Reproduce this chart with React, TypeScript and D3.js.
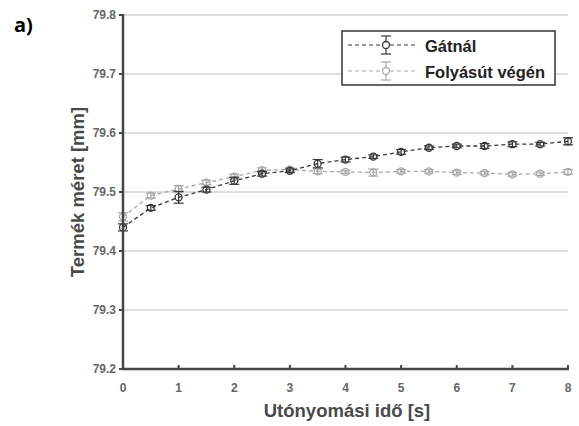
import React, { useEffect, useRef } from "react";
import * as d3 from "d3";

const times = [0, 0.5, 1, 1.5, 2, 2.5, 3, 3.5, 4, 4.5, 5, 5.5, 6, 6.5, 7, 7.5, 8];
const gatnal = [79.44, 79.473, 79.491, 79.504, 79.519, 79.531, 79.536, 79.548, 79.555, 79.56, 79.568, 79.575, 79.578, 79.578, 79.581, 79.581, 79.586];
const gatnalErr = [0.006, 0.004, 0.01, 0.004, 0.006, 0.004, 0.003, 0.007, 0.004, 0.003, 0.004, 0.003, 0.003, 0.004, 0.004, 0.003, 0.006];
const vegen = [79.458, 79.494, 79.505, 79.516, 79.526, 79.537, 79.538, 79.535, 79.534, 79.533, 79.535, 79.535, 79.533, 79.532, 79.53, 79.531, 79.534];
const vegenErr = [0.007, 0.004, 0.006, 0.004, 0.004, 0.004, 0.003, 0.004, 0.003, 0.006, 0.003, 0.003, 0.003, 0.003, 0.003, 0.003, 0.004];
const xTicks = [0, 1, 2, 3, 4, 5, 6, 7, 8];
const yTicks = [79.2, 79.3, 79.4, 79.5, 79.6, 79.7, 79.8];

export default function App() {
  const ref = useRef<SVGSVGElement>(null);

  useEffect(() => {
    const svg = d3.select(ref.current);
    svg.selectAll("*").remove();

    const x = d3.scaleLinear().domain([0, 8]).range([123, 568]);
    const y = d3.scaleLinear().domain([79.2, 79.8]).range([369, 15]);
    const font = "Liberation Sans, Arial, sans-serif";

    // grid
    svg.append("g")
      .selectAll("line")
      .data(yTicks.slice(1))
      .enter()
      .append("line")
      .attr("x1", x(0))
      .attr("x2", x(8))
      .attr("y1", d => y(d))
      .attr("y2", d => y(d))
      .attr("stroke", "#dedede")
      .attr("stroke-width", 2);

    const series = [
      { vals: vegen, err: vegenErr, color: "#a8a8a8" },
      { vals: gatnal, err: gatnalErr, color: "#383838" },
    ];

    series.forEach(s => {
      const line = d3.line<number>().x((d, i) => x(times[i])).y(d => y(d));
      svg.append("path")
        .attr("d", line(s.vals))
        .attr("fill", "none")
        .attr("stroke", s.color)
        .attr("stroke-width", 1.3)
        .attr("stroke-dasharray", "4,3");

      const g = svg.append("g")
        .selectAll("g")
        .data(s.vals)
        .enter()
        .append("g");
      g.append("line")
        .attr("x1", (d, i) => x(times[i]))
        .attr("x2", (d, i) => x(times[i]))
        .attr("y1", (d, i) => y(d - s.err[i]))
        .attr("y2", (d, i) => y(d + s.err[i]))
        .attr("stroke", s.color)
        .attr("stroke-width", 1.2);
      [-1, 1].forEach(sign => {
        g.append("line")
          .attr("x1", (d, i) => x(times[i]) - 5)
          .attr("x2", (d, i) => x(times[i]) + 5)
          .attr("y1", (d, i) => y(d + sign * s.err[i]))
          .attr("y2", (d, i) => y(d + sign * s.err[i]))
          .attr("stroke", s.color)
          .attr("stroke-width", 1.2);
      });
      g.append("circle")
        .attr("cx", (d, i) => x(times[i]))
        .attr("cy", d => y(d))
        .attr("r", 3.5)
        .attr("fill", "none")
        .attr("stroke", s.color)
        .attr("stroke-width", 1.3);
    });

    // axes
    const axisColor = "#454545";
    const labelColor = "#666";
    svg.append("line")
      .attr("x1", x(0)).attr("x2", x(0))
      .attr("y1", y(79.8) - 1).attr("y2", y(79.2) + 1)
      .attr("stroke", axisColor).attr("stroke-width", 2.5);
    svg.append("line")
      .attr("x1", x(0) - 1).attr("x2", x(8) + 1)
      .attr("y1", y(79.2)).attr("y2", y(79.2))
      .attr("stroke", axisColor).attr("stroke-width", 2.5);

    svg.append("g")
      .selectAll("line")
      .data(yTicks)
      .enter()
      .append("line")
      .attr("x1", x(0) - 4)
      .attr("x2", x(0))
      .attr("y1", d => y(d))
      .attr("y2", d => y(d))
      .attr("stroke", axisColor)
      .attr("stroke-width", 2);
    svg.append("g")
      .selectAll("text")
      .data(yTicks)
      .enter()
      .append("text")
      .attr("x", x(0) - 7)
      .attr("y", d => y(d) + 4)
      .attr("text-anchor", "end")
      .attr("font-family", font)
      .attr("font-size", 12)
      .attr("font-weight", "bold")
      .attr("fill", labelColor)
      .text(d => d3.format(".1f")(d));

    svg.append("g")
      .selectAll("line")
      .data(xTicks)
      .enter()
      .append("line")
      .attr("x1", d => x(d))
      .attr("x2", d => x(d))
      .attr("y1", y(79.2))
      .attr("y2", y(79.2) - 4)
      .attr("stroke", axisColor)
      .attr("stroke-width", 2);
    svg.append("g")
      .selectAll("text")
      .data(xTicks)
      .enter()
      .append("text")
      .attr("x", d => x(d))
      .attr("y", 392)
      .attr("text-anchor", "middle")
      .attr("font-family", font)
      .attr("font-size", 12)
      .attr("font-weight", "bold")
      .attr("fill", labelColor)
      .text(d => d);

    svg.append("text")
      .attr("x", 347)
      .attr("y", 417)
      .attr("text-anchor", "middle")
      .attr("font-family", font)
      .attr("font-size", 18.5)
      .attr("font-weight", "bold")
      .attr("fill", "#4a4a4a")
      .text("Utónyomási idő [s]");

    svg.append("text")
      .attr("transform", "translate(84,192) rotate(-90)")
      .attr("text-anchor", "middle")
      .attr("font-family", font)
      .attr("font-size", 18.5)
      .attr("font-weight", "bold")
      .attr("fill", "#4a4a4a")
      .text("Termék méret [mm]");

    svg.append("text")
      .attr("x", 14)
      .attr("y", 32)
      .attr("font-family", "Open Sans, sans-serif")
      .attr("font-size", 20)
      .attr("font-weight", "bold")
      .attr("fill", "#000")
      .text("a)");

    // legend
    const leg = svg.append("g");
    leg.append("rect")
      .attr("x", 342).attr("y", 31)
      .attr("width", 213).attr("height", 54)
      .attr("fill", "#fff")
      .attr("stroke", "#333")
      .attr("stroke-width", 1.5);
    const legItems = [
      { name: "Gátnál", color: "#383838" },
      { name: "Folyásút végén", color: "#a8a8a8" },
    ];
    legItems.forEach((it, i) => {
      const cy = 45 + i * 26;
      leg.append("line")
        .attr("x1", 348).attr("x2", 418)
        .attr("y1", cy).attr("y2", cy)
        .attr("stroke", it.color).attr("stroke-width", 1.2)
        .attr("stroke-dasharray", "4,3");
      leg.append("line")
        .attr("x1", 386).attr("x2", 386)
        .attr("y1", cy - 9).attr("y2", cy + 9)
        .attr("stroke", it.color).attr("stroke-width", 1.2);
      [-9, 9].forEach(dy => {
        leg.append("line")
          .attr("x1", 381).attr("x2", 391)
          .attr("y1", cy + dy).attr("y2", cy + dy)
          .attr("stroke", it.color).attr("stroke-width", 1.2);
      });
      leg.append("circle")
        .attr("cx", 386).attr("cy", cy).attr("r", 3.5)
        .attr("fill", "#fff")
        .attr("stroke", it.color).attr("stroke-width", 1.3);
      leg.append("text")
        .attr("x", 425).attr("y", cy + 7)
        .attr("font-family", font)
        .attr("font-size", 16.5)
        .attr("font-weight", "bold")
        .attr("fill", "#222")
        .text(it.name);
    });
  }, []);

  return (
    <svg
      ref={ref}
      width={579}
      height={426}
      style={{ position: "absolute", left: 0, top: 0, background: "#fff" }}
    />
  );
}
